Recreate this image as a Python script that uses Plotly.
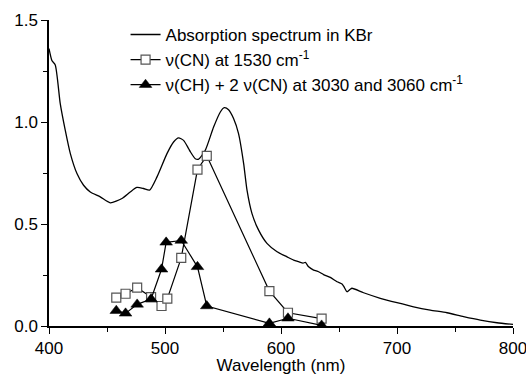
import plotly.graph_objects as go

# Absorption spectrum in KBr (traced)
abs_wl = [400, 402.6, 405.4, 409.7, 414, 418.4, 424.1, 429.8, 435.6, 444.2, 452.8, 462.9, 470, 475.8,
          481.5, 486.7, 493.1, 501.7, 507.4, 511.7, 516, 520.3, 522, 526.1, 529, 534.7, 541.9, 547.7,
          551.1, 554.8, 559.1, 563.4, 567.8, 570.7, 575, 580.7, 587.9, 596.6, 605.2, 610.9, 615.2,
          619, 621, 623.8, 628.1, 632.4, 636.7, 642.5, 648.3, 652.6, 654, 656.9, 659.7, 661.2,
          671.2, 685.6, 700, 714.3, 728.7, 743.1, 757.4, 771.8, 786.2, 800]
abs_val = [1.36, 1.30, 1.28, 1.09, 0.96, 0.845, 0.747, 0.69, 0.657, 0.633, 0.604, 0.625, 0.657, 0.679,
           0.674, 0.666, 0.731, 0.845, 0.902, 0.922, 0.91, 0.87, 0.853, 0.82, 0.818, 0.861, 0.975, 1.049,
           1.07, 1.06, 1.017, 0.943, 0.796, 0.666, 0.551, 0.47, 0.405, 0.364, 0.339, 0.323, 0.315,
           0.308, 0.312, 0.29, 0.274, 0.266, 0.252, 0.238, 0.217, 0.206, 0.195, 0.168, 0.18, 0.185,
           0.163, 0.136, 0.114, 0.094, 0.078, 0.065, 0.046, 0.029, 0.016, 0.008]

# nu(CN) at 1530 cm-1
cn_wl = [458, 466, 476, 488, 497, 502, 514, 528, 536, 590, 606, 635]
cn_val = [0.139, 0.158, 0.188, 0.142, 0.098, 0.134, 0.334, 0.767, 0.834, 0.171, 0.065, 0.036]

# nu(CH) + 2 nu(CN) at 3030 and 3060 cm-1
ch_wl = [458, 466, 476, 488, 497, 501, 514, 528, 536, 590, 606, 635]
ch_val = [0.075, 0.062, 0.106, 0.132, 0.278, 0.41, 0.419, 0.29, 0.098, 0.013, 0.038, 0.003]

x_ticks = [400, 500, 600, 700, 800]
y_ticks = [0.0, 0.5, 1.0, 1.5]
y_ticklabels = ["0.0", "0.5", "1.0", "1.5"]

FONT = "Liberation Sans, Arial, sans-serif"

fig = go.Figure()
fig.add_trace(go.Scatter(
    x=abs_wl, y=abs_val, mode="lines", name="Absorption spectrum in KBr",
    line=dict(color="black", width=1.3, shape="spline", smoothing=0.6)))
fig.add_trace(go.Scatter(
    x=cn_wl, y=cn_val, mode="lines+markers", name="\u03bd(CN) at 1530 cm<sup>-1</sup>",
    line=dict(color="black", width=1.2),
    marker=dict(symbol="square", size=9, color="white", line=dict(color="#555555", width=1.2))))
fig.add_trace(go.Scatter(
    x=ch_wl, y=ch_val, mode="lines+markers",
    name="\u03bd(CH) + 2 \u03bd(CN) at 3030 and 3060 cm<sup>-1</sup>",
    line=dict(color="black", width=1.2),
    marker=dict(symbol="triangle-up", size=11, color="black", line=dict(color="black", width=0.5))))

fig.update_layout(
    width=526, height=375,
    margin=dict(l=49, r=13, t=19.5, b=49, autoexpand=False),
    paper_bgcolor="white", plot_bgcolor="white",
    font=dict(family=FONT, size=17, color="black"),
    showlegend=True,
    legend=dict(x=0.165, y=1.01, xanchor="left", yanchor="top",
                bgcolor="rgba(0,0,0,0)", borderwidth=0,
                font=dict(family=FONT, size=17), tracegroupgap=0),
    xaxis=dict(range=[400, 800], tickvals=x_ticks, ticktext=[str(v) for v in x_ticks],
               automargin=False,
               showgrid=False, zeroline=False, showline=True, linecolor="black", linewidth=1.5,
               ticks="outside", ticklen=6, tickwidth=1.3, tickcolor="black",
               ticklabeloverflow="allow",
               minor=dict(dtick=50, ticks="outside", ticklen=4, tickwidth=1.2, tickcolor="black", showgrid=False),
               title=dict(text="Wavelength (nm)", standoff=0, font=dict(size=17)),
               tickfont=dict(size=17)),
    yaxis=dict(range=[0, 1.5], tickvals=y_ticks, ticktext=y_ticklabels,
               automargin=False,
               showgrid=False, zeroline=False, showline=True, linecolor="black", linewidth=1.5,
               ticks="outside", ticklen=6, tickwidth=1.3, tickcolor="black",
               minor=dict(dtick=0.25, ticks="outside", ticklen=4, tickwidth=1.2, tickcolor="black", showgrid=False),
               tickfont=dict(size=17)),
)

fig.write_html("out.html")
